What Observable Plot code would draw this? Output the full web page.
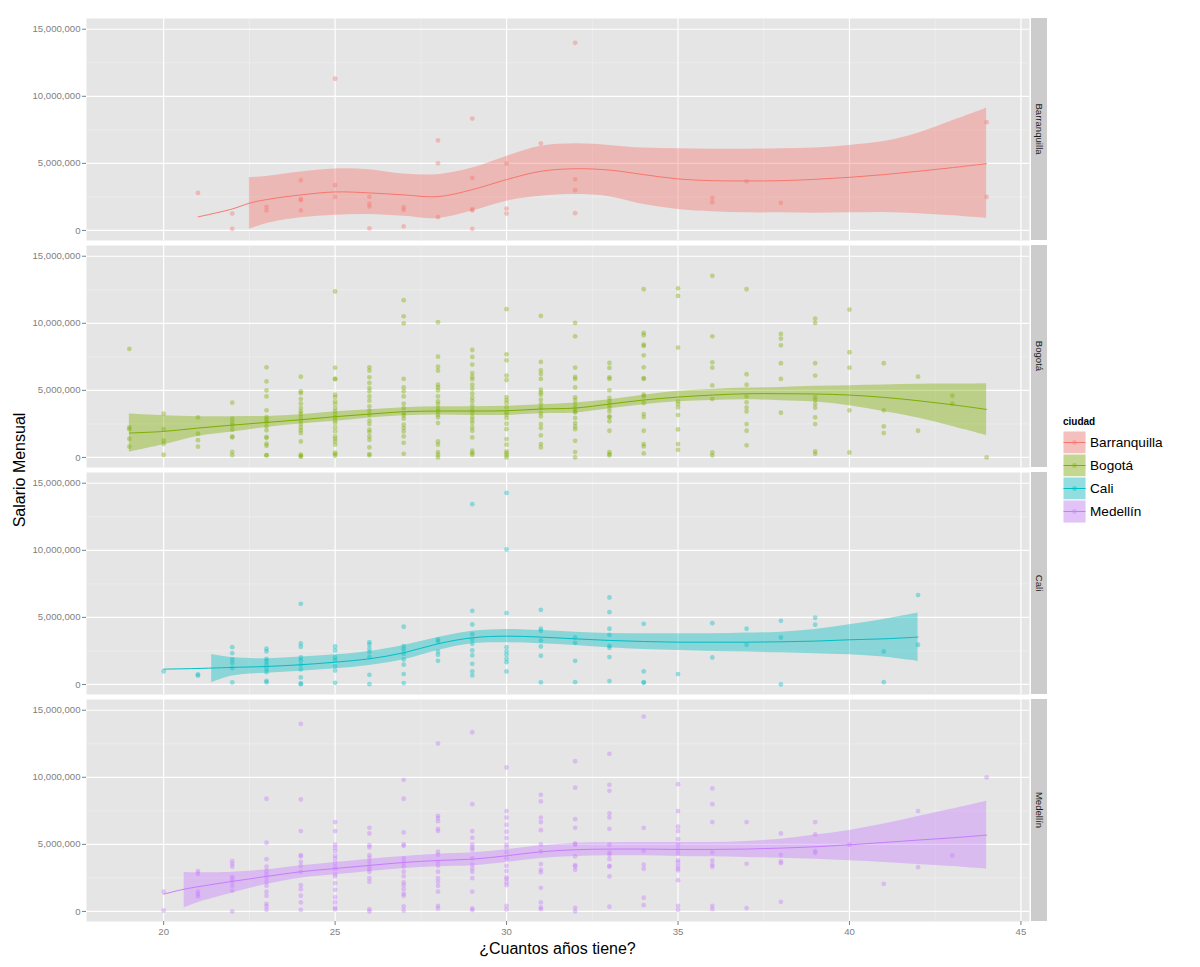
<!DOCTYPE html>
<html><head><meta charset="utf-8">
<script src="https://cdn.jsdelivr.net/npm/d3@7"></script>
<script src="https://cdn.jsdelivr.net/npm/@observablehq/plot@0.6"></script>
<style>body{margin:0;background:#fff;} #chart{position:relative;width:1200px;height:967px;}</style>
</head><body><div id="chart"></div>
<script>
const cities = ["Barranquilla","Bogotá","Cali","Medellín"];
const colors = ["#F8766D","#7CAE00","#00BFC4","#C77CFF"];
const xTicks = [20,25,30,35,40,45];
const xMinor = [22.5,27.5,32.5,37.5,42.5];
const yTicks = [0,5e6,10e6,15e6];
const yMinor = [2.5e6,7.5e6,12.5e6];
const xTitle = "¿Cuantos años tiene?";
const yTitle = "Salario Mensual";
const legendTitle = "ciudad";

// Salaries in millions of pesos, grouped by age
const bqAges = [21,22,23,24,25,26,27,28,29,30,31,32,36,37,38,44];
const bqSal = [[2.80],[1.26,0.12],[1.76,1.49],[3.74,2.35,2.25,1.49],[11.31,3.37,2.5],[2.5,2.0,1.78,0.15],[1.73,1.53,0.3],[6.71,5.0,0.99],[8.34,3.91,1.58,1.49,0.12],[4.98,1.63,1.26],[6.49],[13.99,3.81,3.0,1.29],[2.43,2.1],[3.66],[2.05],[8.07,2.5]];

const boAges = [19,20,21,22,23,24,25,26,27,28,29,30,31,32,33,34,35,36,37,38,39,40,41,42,43,44];
const boSal = [
 [8.09,2.24,2.11,1.39,0.80],
 [3.26,2.11,1.27,1.02,0.2],
 [2.99,1.77,1.29,0.8],
 [4.08,2.89,2.61,2.39,2.07,1.57,1.49,0.42,0.17],
 [6.72,5.67,5.0,4.55,3.51,3.01,2.81,2.64,2.31,2.02,1.54,1.44,1.02,0.87,0.17,0.15],
 [6.02,4.93,4.78,4.35,4.01,3.68,3.43,3.26,3.01,2.74,2.49,2.24,2.02,1.82,1.19,0.2,0.05,0.12],
 [12.37,6.69,5.87,5.82,4.68,4.5,4.18,3.98,3.68,3.46,3.23,2.99,2.76,2.56,2.24,1.94,1.57,1.39,1.19,0.95,0.35,0.25,0.12],
 [6.72,6.47,5.97,5.55,5.17,4.93,4.55,4.23,3.81,3.48,3.18,2.74,2.49,2.07,1.89,1.57,1.32,0.75,0.25,0.15],
 [11.72,10.52,10.0,5.85,5.22,4.93,4.55,4.01,3.68,3.31,3.13,2.89,2.44,2.19,1.94,1.57,1.09,0.27],
 [10.08,7.51,6.77,6.47,5.42,5.22,5.0,4.55,4.18,3.98,3.68,3.43,3.18,2.99,2.56,1.19,0.95,0.4,0.2,0.0],
 [8.01,7.49,6.92,6.29,6.02,5.82,5.42,5.12,4.75,4.43,4.18,3.86,3.53,3.31,3.01,2.79,2.56,2.24,1.99,1.49,0.5,0.32,0.2],
 [11.05,7.69,7.24,6.1,5.77,4.5,4.28,4.06,3.73,3.36,3.18,2.94,2.51,2.11,1.37,0.95,0.45,0.32,0.15,0.0],
 [10.55,7.12,6.49,6.22,5.85,5.05,4.85,4.68,4.3,3.98,3.68,3.31,3.06,2.49,2.19,1.64,1.0,0.75],
 [10.03,9.03,6.69,6.0,5.85,5.22,4.48,4.28,3.98,3.68,3.43,3.36,2.94,2.56,2.31,2.11,1.24,0.4,0.0],
 [7.04,6.67,5.97,5.85,5.0,4.43,4.18,3.93,3.68,3.43,3.06,2.99,2.69,1.99,0.4,0.25,0.15],
 [12.54,9.28,9.11,8.41,8.31,7.61,6.72,5.92,5.85,4.68,4.55,4.06,3.23,3.01,1.99,1.0,0.82,0.3],
 [12.61,12.04,8.19,4.18,3.98,3.73,3.16,2.09,1.0,0.57],
 [13.54,9.03,7.09,6.69,5.37,4.35,0.37,0.15],
 [12.54,6.2,5.42,4.55,4.11,3.73,3.43,2.49,1.99,0.9],
 [9.21,8.86,8.36,7.02,5.85,3.33],
 [10.35,10.03,7.02,6.1,4.5,4.28,3.98,3.71,2.99,2.49,0.45,0.27],
 [11.02,7.84,6.69,3.51,0.37],
 [7.02,3.51,2.31,1.82],
 [6.02,1.99],
 [4.6,4.01],
 [0.0]];

const caAges = [20,21,22,23,24,25,26,27,28,29,30,31,32,33,34,35,36,37,38,39,41,42];
const caSal = [
 [0.97],[0.75,0.65],
 [2.78,2.33,1.86,1.59,1.22,0.15],
 [2.66,2.46,1.91,1.71,1.47,1.17,0.92,0.27,0.15],
 [6.01,3.06,2.81,2.01,1.79,1.47,1.12,0.52,0.07,0.02],
 [2.83,2.53,2.01,1.79,1.37,1.04,0.12],
 [3.15,2.96,2.66,2.41,2.04,0.72,0.02],
 [4.3,2.86,2.61,2.29,1.86,1.47,0.77,0.1],
 [3.35,3.2,2.46,2.21,1.76],
 [13.44,5.49,4.47,3.75,3.35,3.03,2.53,2.16,1.54,0.97,0.67],
 [14.28,10.06,5.32,2.78,2.46,2.21,1.91,1.66,0.97],
 [5.56,4.15,4.0,3.28,2.83,2.14,0.15],
 [3.5,3.1,1.76,0.17],
 [6.48,5.39,4.15,3.7,2.88,2.73,2.04,0.25],
 [4.52,0.97,0.17,0.12],
 [0.77],[4.57,2.01],[4.15,2.96],[4.74,3.5,0.0],[4.97,4.45],[2.46,0.17],[6.66,2.96]];

const meAges = [20,21,22,23,24,25,26,27,28,29,30,31,32,33,34,35,36,37,38,39,40,41,42,43,44];
const meSal = [
 [1.47,0.07],
 [3.01,2.81,1.47,1.29,1.12],
 [3.75,3.53,3.33,2.58,2.41,2.21,1.91,1.54,0.0],
 [8.4,5.12,3.9,3.33,3.03,2.78,2.51,2.21,1.91,1.47,1.17,0.57,0.37,0.12],
 [13.98,8.35,5.99,4.2,4.1,3.7,3.4,2.96,1.96,1.66,1.17,0.67,0.12],
 [6.66,5.99,4.97,4.74,4.5,4.15,3.95,3.65,3.35,3.15,2.78,2.61,2.11,1.61,1.07,0.67,0.27,0.15],
 [6.23,5.81,4.94,4.77,4.2,4.0,3.7,3.4,3.15,2.96,2.48,2.21,0.17,0.0],
 [9.81,8.4,5.89,4.99,4.89,3.95,3.65,3.35,2.96,2.61,2.16,1.96,1.66,1.32,1.17,0.37,0.07],
 [12.52,7.13,6.96,6.73,6.16,5.99,4.45,4.22,3.7,3.4,2.96,2.48,2.21,1.91,1.47,0.42,0.22],
 [13.36,8.0,5.99,5.49,4.99,4.77,4.6,3.95,3.48,3.2,2.96,2.48,1.47,0.22,0.1],
 [10.73,7.48,7.0,6.46,5.94,5.47,4.97,4.77,4.4,3.97,3.4,3.01,2.53,2.41,2.16,1.96,0.42,0.15],
 [8.69,8.2,7.0,6.66,6.06,4.99,4.47,3.53,3.1,2.91,1.76,0.67,0.3,0.17],
 [11.2,9.22,6.88,6.23,5.07,4.97,4.1,3.45,3.35,3.1,0.27,0.0],
 [11.75,9.44,8.99,7.3,7.0,6.16,4.97,4.4,4.22,3.9,3.4,3.33,2.61,0.35],
 [14.53,6.23,4.52,3.48,3.18,1.02,0.47],
 [9.49,7.48,6.33,5.99,5.39,4.97,4.65,4.35,3.8,3.65,3.4,3.2,3.06,2.33,0.42,0.12],
 [9.17,8.0,6.66,4.4,3.8,3.5,3.33,0.42,0.17],
 [6.66,3.55,0.25],
 [5.81,4.22,3.73,3.6,0.72],
 [6.66,5.74,4.5,4.35],
 [4.97],[2.06],[7.48,3.3],[4.17],[9.99]];

// Smoother (loess) fit and confidence band (millions)
const bqSmAge = [21,22,22.5,23,24,25,26,27,28,29,30,31,32,33,34,35,36,37,38,39,40,41,42,43,44];
const bqSmFit = [1.01,1.6,2.03,2.3,2.65,2.87,2.8,2.65,2.52,3.04,3.79,4.41,4.6,4.5,4.16,3.84,3.71,3.69,3.71,3.81,3.96,4.16,4.41,4.68,4.98];
const bqSmLo  = [null,null,0.07,0.5,0.94,1.14,1.19,1.06,0.89,1.44,2.18,2.55,2.67,2.52,1.93,1.56,1.39,1.31,1.31,1.29,1.31,1.34,1.24,1.09,0.89];
const bqSmHi  = [null,null,3.94,4.03,4.36,4.58,4.53,4.21,4.16,4.65,5.52,6.27,6.46,6.34,6.14,6.09,6.06,6.06,6.09,6.14,6.34,6.63,7.25,8.17,9.11];

const boSmAge = [19,20,21,22,23,24,25,26,27,28,29,30,31,32,33,34,35,36,37,38,39,40,41,42,43,44];
const boSmFit = [1.82,1.94,2.19,2.41,2.61,2.81,3.04,3.23,3.41,3.46,3.46,3.48,3.61,3.68,3.98,4.28,4.5,4.65,4.75,4.75,4.73,4.65,4.48,4.23,3.93,3.58];
const boSmLo  = [0.4,0.95,1.57,1.89,2.24,2.49,2.69,2.94,3.11,3.16,3.13,3.13,3.26,3.31,3.63,3.93,4.16,4.25,4.3,4.23,4.13,3.86,3.43,2.94,2.31,1.64];
const boSmHi  = [3.23,3.11,3.04,3.04,3.06,3.18,3.41,3.56,3.71,3.78,3.78,3.81,3.93,4.06,4.3,4.63,4.93,5.07,5.17,5.22,5.3,5.35,5.4,5.45,5.47,5.5];

const caSmAge = [20,21,21.4,22,23,24,25,26,27,28,29,30,31,32,33,34,35,36,37,38,39,40,41,42];
const caSmFit = [1.14,1.19,1.22,1.27,1.34,1.47,1.66,1.91,2.36,3.03,3.48,3.6,3.53,3.4,3.28,3.2,3.15,3.15,3.15,3.18,3.23,3.33,3.4,3.53];
const caSmLo  = [null,null,0.12,0.62,0.84,0.99,1.17,1.42,1.84,2.53,3.03,3.1,3.03,2.91,2.73,2.61,2.53,2.46,2.41,2.36,2.29,2.21,2.04,1.71];
const caSmHi  = [null,null,2.24,2.01,1.91,2.04,2.21,2.46,2.91,3.5,3.97,4.1,4.02,3.9,3.8,3.78,3.78,3.78,3.83,3.9,4.1,4.45,4.84,5.32];

const meSmAge = [20,20.6,21,22,23,24,25,26,27,28,29,30,31,32,33,34,35,36,37,38,39,40,41,42,43,44];
const meSmFit = [1.29,1.66,1.84,2.24,2.61,2.96,3.2,3.43,3.65,3.8,3.9,4.15,4.45,4.6,4.65,4.65,4.62,4.62,4.65,4.72,4.82,4.97,5.14,5.32,5.49,5.69];
const meSmLo  = [null,0.27,0.65,1.37,2.01,2.48,2.73,2.98,3.2,3.33,3.4,3.65,3.95,4.1,4.15,4.15,4.1,4.07,4.02,3.97,3.9,3.78,3.65,3.5,3.35,3.15];
const meSmHi  = [null,2.91,2.88,2.93,3.1,3.4,3.65,3.9,4.1,4.27,4.37,4.6,4.89,5.09,5.12,5.14,5.14,5.14,5.22,5.39,5.69,6.04,6.51,7.08,7.63,8.22];

const M = 1e6;
function pts(city, ages, sal) {
  const out = [];
  ages.forEach((a, i) => sal[i].forEach(s => out.push({city, age: a, salary: s * M})));
  return out;
}
function sm(city, ages, fit, lo, hi) {
  return ages.map((a, i) => ({city, age: a, fit: fit[i] * M,
    lo: lo[i] == null ? null : lo[i] * M, hi: hi[i] == null ? null : hi[i] * M}));
}
const points = [...pts(cities[0], bqAges, bqSal), ...pts(cities[1], boAges, boSal),
                ...pts(cities[2], caAges, caSal), ...pts(cities[3], meAges, meSal)];
const smooth = [...sm(cities[0], bqSmAge, bqSmFit, bqSmLo, bqSmHi), ...sm(cities[1], boSmAge, boSmFit, boSmLo, boSmHi),
                ...sm(cities[2], caSmAge, caSmFit, caSmLo, caSmHi), ...sm(cities[3], meSmAge, meSmFit, meSmLo, meSmHi)];

const font = "'Liberation Sans', Arial, Helvetica, sans-serif";
const plot = Plot.plot({
  width: 1200, height: 967,
  marginLeft: 86, marginRight: 171, marginTop: 18, marginBottom: 45,
  style: {fontFamily: font, background: "#fff", overflow: "visible"},
  x: {domain: [17.75, 45.25]},
  y: {domain: [-750000, 15800000]},
  fy: {domain: cities, paddingInner: 0.022, paddingOuter: 0, axis: null, label: null},
  color: {domain: cities, range: colors},
  marks: [
    Plot.frame({fill: "#E5E5E5", stroke: "none"}),
    Plot.gridX(xMinor, {stroke: "#F2F2F2", strokeOpacity: 1, strokeWidth: 0.6}),
    Plot.gridY(yMinor, {stroke: "#F2F2F2", strokeOpacity: 1, strokeWidth: 0.6}),
    Plot.gridX(xTicks, {stroke: "#ffffff", strokeOpacity: 1, strokeWidth: 1.2}),
    Plot.gridY(yTicks, {stroke: "#ffffff", strokeOpacity: 1, strokeWidth: 1.2}),
    Plot.dot(points, {x: "age", y: "salary", fy: "city", fill: "city", r: 2.4, fillOpacity: 0.4, stroke: "none"}),
    Plot.areaY(smooth, {x: "age", y1: "lo", y2: "hi", fy: "city", fill: "city", fillOpacity: 0.4, curve: "catmull-rom"}),
    Plot.lineY(smooth, {x: "age", y: "fit", fy: "city", stroke: "city", strokeWidth: 1, curve: "catmull-rom"}),
    Plot.axisX(xTicks, {tickSize: 4, tickPadding: 3, fontSize: 9.6, color: "#7F7F7F", label: null}),
    Plot.axisY(yTicks, {tickSize: 4, tickPadding: 2, fontSize: 9.6, color: "#7F7F7F", label: null, tickFormat: d3.format(",")})
  ]
});
document.getElementById("chart").appendChild(plot);

// strips, axis titles and legend
const svg = d3.select(plot);
const fy = plot.scale("fy");
const xs = plot.scale("x");
const [xr0, xr1] = xs.range;
const stripX = xr1 + 2, stripW = 16;
cities.forEach(c => {
  const top = fy.apply(c), bw = fy.bandwidth;
  svg.append("rect").attr("x", stripX).attr("y", top).attr("width", stripW).attr("height", bw).attr("fill", "#CCCCCC");
  svg.append("text").attr("transform", `translate(${stripX + stripW / 2},${top + bw / 2}) rotate(90)`)
    .attr("text-anchor", "middle").attr("dy", "0.35em").attr("font-size", 9.6).attr("fill", "#1A1A1A")
    .attr("font-family", font).text(c);
});
const fyR = fy.range;
svg.append("text").attr("x", (xr0 + xr1) / 2).attr("y", 954).attr("text-anchor", "middle")
  .attr("font-size", 16).attr("font-family", font).attr("fill", "#000").text(xTitle);
svg.append("text").attr("transform", `translate(25,${(fyR[0] + fyR[1]) / 2}) rotate(-90)`).attr("text-anchor", "middle")
  .attr("font-size", 16).attr("font-family", font).attr("fill", "#000").text(yTitle);

const lg = svg.append("g").attr("transform", "translate(1063,416)").attr("text-anchor", "start");
lg.append("text").attr("x", 0).attr("y", 9).attr("text-anchor", "start").attr("font-size", 10).attr("font-weight", "bold").attr("font-family", font).text(legendTitle);
cities.forEach((c, i) => {
  const y = 15 + i * 23;
  const g = lg.append("g").attr("transform", `translate(0,${y})`);
  g.append("rect").attr("width", 23).attr("height", 23).attr("fill", "#F2F2F2").attr("stroke", "#fff").attr("stroke-width", 1);
  g.append("rect").attr("x", 0.5).attr("y", 0.5).attr("width", 22).attr("height", 22).attr("fill", colors[i]).attr("fill-opacity", 0.4);
  g.append("line").attr("x1", 0.5).attr("x2", 22.5).attr("y1", 11.5).attr("y2", 11.5).attr("stroke", colors[i]).attr("stroke-width", 1);
  g.append("circle").attr("cx", 11.5).attr("cy", 11.5).attr("r", 2.4).attr("fill", colors[i]).attr("fill-opacity", 0.4);
  g.append("text").attr("x", 27).attr("y", 11.5).attr("dy", "0.35em").attr("text-anchor", "start").attr("font-size", 13.6).attr("font-family", font).attr("fill", "#000").text(c);
});
</script></body></html>
